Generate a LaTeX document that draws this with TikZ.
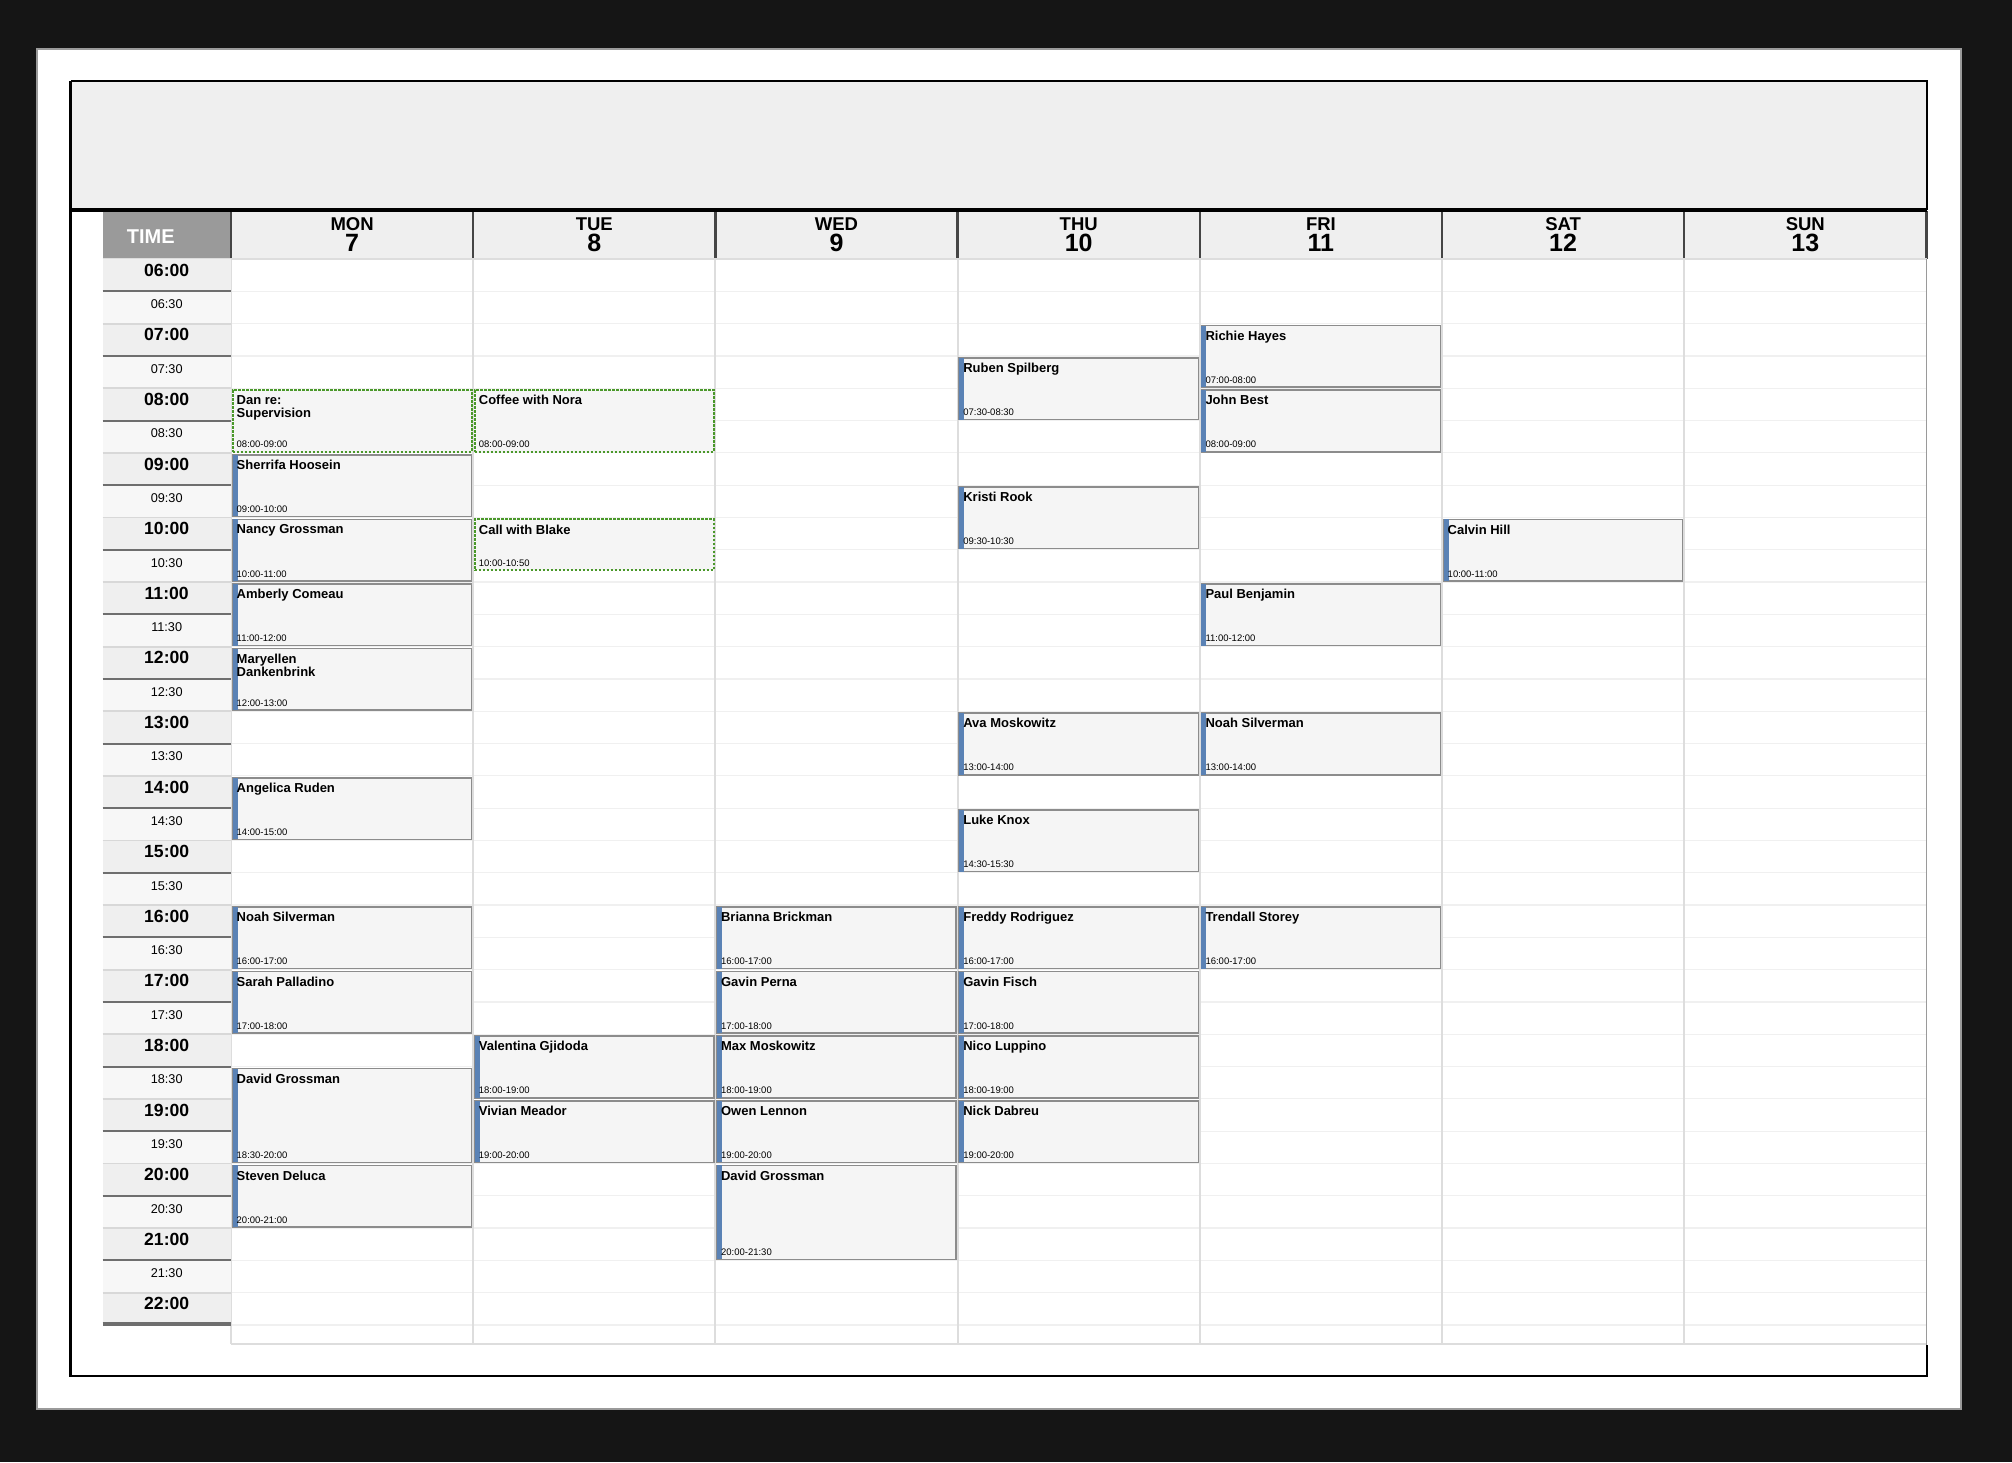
\documentclass[tikz,border=0pt]{standalone}
\usepackage{fontspec}
\setmainfont{Liberation Sans}
\definecolor{bgdark}{HTML}{151515}
\definecolor{paperedge}{HTML}{9A9A9A}
\definecolor{titlefill}{HTML}{EFEFEF}
\definecolor{timehead}{HTML}{9A9A9A}
\definecolor{sepdark}{HTML}{454545}
\definecolor{hourfill}{HTML}{EFEFEF}
\definecolor{halffill}{HTML}{F7F7F7}
\definecolor{hourline}{HTML}{6E6E6E}
\definecolor{halfline}{HTML}{D8D8D8}
\definecolor{gridline}{HTML}{F0F0F0}
\definecolor{colline}{HTML}{DDDDDD}
\definecolor{evfill}{HTML}{F5F5F5}
\definecolor{evborder}{HTML}{8C8C8C}
\definecolor{barblue}{HTML}{5A82B5}
\definecolor{dashgreen}{HTML}{4A982A}
\tikzset{
  evbox/.style={anchor=north west, minimum width=239.2pt, fill=evfill, draw=evborder, line width=1.5pt, inner sep=0pt, outer sep=0pt},
  gevbox/.style={anchor=north west, minimum width=239.2pt, fill=evfill, draw=dashgreen, line width=2pt, dash pattern=on 2.6pt off 1.4pt, inner sep=0pt, outer sep=0pt},
  evtitle/.style={anchor=north west, inner sep=0pt, align=left, font=\bfseries\fontsize{13}{12.7}\selectfont},
  evtime/.style={anchor=base west, inner sep=0pt, font=\fontsize{9.5}{11}\selectfont},
  hourlab/.style={anchor=base, inner sep=0pt, font=\bfseries\fontsize{17.6}{20}\selectfont},
  halflab/.style={anchor=base, inner sep=0pt, font=\fontsize{12.7}{15}\selectfont},
  dayname/.style={anchor=base, inner sep=0pt, font=\bfseries\fontsize{18.5}{20}\selectfont},
  daynum/.style={anchor=base, inner sep=0pt, font=\bfseries\fontsize{25}{27}\selectfont},
}
\newcommand\evt[7][evbox]{%
  \pgfmathsetmacro\evx{231+#3*242.2+1.5}%
  \pgfmathsetmacro\evy{259+(#4-6)*64.6+2}%
  \pgfmathsetmacro\evh{(#5-#4)*64.6-3}%
  \node[#1, minimum height=\evh pt] (#2) at (\evx,\evy) {};
  \fill[barblue] (#2.north west) rectangle ([xshift=5pt]#2.south west);
  \node[evtitle] (#2-n) at ([xshift=4pt,yshift=-5.1pt]#2.north west) {#6};
  \node[evtime] (#2-d) at ([xshift=4pt,yshift=4pt]#2.south west) {#7};
}
\newcommand\gevt[6]{%
  \pgfmathsetmacro\evx{231+#2*242.2+1.5}%
  \pgfmathsetmacro\evy{259+(#3-6)*64.6+2}%
  \pgfmathsetmacro\evh{(#4-#3)*64.6-3}%
  \node[gevbox, minimum height=\evh pt] (#1) at (\evx,\evy) {};
  \node[evtitle] (#1-n) at ([xshift=4pt,yshift=-5.1pt]#1.north west) {#5};
  \node[evtime] (#1-d) at ([xshift=4pt,yshift=4pt]#1.south west) {#6};
}
\begin{document}
\begin{tikzpicture}[x=1pt,y=-1pt]
\useasboundingbox (0,0) rectangle (2012,1462);
% background and paper
\fill[bgdark] (0,0) rectangle (2012,1462);
\filldraw[fill=white, draw=paperedge, line width=2pt] (36.6,49) rectangle (1961,1409);
% title area
\fill[titlefill] (70.5,81) rectangle (1926.5,210);
% header row
\fill[titlefill] (231,211) rectangle (1926.5,259);
\fill[timehead] (102.5,211) rectangle (231,259);
\node[anchor=base west, inner sep=0pt, text=white, font=\bfseries\fontsize{20}{22}\selectfont] (timehdr) at (126.7,243.3) {TIME};
\foreach \dn/\dd [count=\k from 0] in {MON/7,TUE/8,WED/9,THU/10,FRI/11,SAT/12,SUN/13}{
  \pgfmathsetmacro\cx{231+\k*242.2+121.1}
  \node[dayname] (hd\k) at (\cx,230) {\dn};
  \node[daynum] (hn\k) at (\cx,251) {\dd};
}
\foreach \k in {0,...,7}{
  \pgfmathsetmacro\sx{231+\k*242.2}
  \draw[sepdark, line width=2.5pt] (\sx,211) -- (\sx,259);
}
\draw[colline, line width=1.5pt] (102.5,259) -- (1926.5,259);
% thick line under title
\draw[black, line width=4pt] (70.5,210) -- (1926.5,210);
% day grid
\fill[white] (231,260) rectangle (1926.5,1344);
\foreach \i in {1,...,33}{
  \pgfmathsetmacro\gy{259+\i*32.3}
  \draw[gridline, line width=1.2pt] (231,\gy) -- (1926.5,\gy);
}
\foreach \k in {0,...,6}{
  \pgfmathsetmacro\sx{231+\k*242.2}
  \draw[colline, line width=2pt] (\sx,260) -- (\sx,1344);
}
\draw[colline, line width=1.5pt] (231,1344) -- (1926.5,1344);
\draw[paperedge, line width=1.5pt] (1926.5,259) -- (1926.5,1345);
% time column
\foreach \lab [count=\i from 0] in {06:00,06:30,07:00,07:30,08:00,08:30,09:00,09:30,10:00,10:30,11:00,11:30,12:00,12:30,13:00,13:30,14:00,14:30,15:00,15:30,16:00,16:30,17:00,17:30,18:00,18:30,19:00,19:30,20:00,20:30,21:00,21:30,22:00}{
  \pgfmathsetmacro\ty{259+\i*32.3}
  \pgfmathtruncatemacro\odd{mod(\i,2)}
  \ifnum\odd=0
    \fill[hourfill] (102.5,\ty) rectangle (231,\ty+32.3);
    \node[hourlab] (tl\i) at (166.7,\ty+17.2) {\lab};
    \ifnum\i>0 \draw[halfline, line width=1.8pt] (102.5,\ty) -- (231,\ty); \fi
  \else
    \fill[halffill] (102.5,\ty) rectangle (231,\ty+32.3);
    \node[halflab] (tl\i) at (166.7,\ty+17.4) {\lab};
    \draw[hourline, line width=2pt] (102.5,\ty) -- (231,\ty);
  \fi
}
\draw[hourline, line width=4pt] (102.5,1324.3) -- (231,1324.3);
% inner frame
\draw[black, line width=1.5pt] (1926.8,210) -- (1926.8,81) -- (70.5,81);
\draw[black, line width=2.6pt] (70.5,81) -- (70.5,1376) -- (1926.8,1376) -- (1926.8,1345);
% events: Monday
\gevt{m1}{0}{8}{9}{Dan re:\\Supervision}{08:00-09:00}
\evt{m2}{0}{9}{10}{Sherrifa Hoosein}{09:00-10:00}
\evt{m3}{0}{10}{11}{Nancy Grossman}{10:00-11:00}
\evt{m4}{0}{11}{12}{Amberly Comeau}{11:00-12:00}
\evt{m5}{0}{12}{13}{Maryellen\\Dankenbrink}{12:00-13:00}
\evt{m6}{0}{14}{15}{Angelica Ruden}{14:00-15:00}
\evt{m7}{0}{16}{17}{Noah Silverman}{16:00-17:00}
\evt{m8}{0}{17}{18}{Sarah Palladino}{17:00-18:00}
\evt{m9}{0}{18.5}{20}{David Grossman}{18:30-20:00}
\evt{m10}{0}{20}{21}{Steven Deluca}{20:00-21:00}
% Tuesday
\gevt{t1}{1}{8}{9}{Coffee with Nora}{08:00-09:00}
\gevt{t2}{1}{10}{10.8333}{Call with Blake}{10:00-10:50}
\evt{t3}{1}{18}{19}{Valentina Gjidoda}{18:00-19:00}
\evt{t4}{1}{19}{20}{Vivian Meador}{19:00-20:00}
% Wednesday
\evt{w1}{2}{16}{17}{Brianna Brickman}{16:00-17:00}
\evt{w2}{2}{17}{18}{Gavin Perna}{17:00-18:00}
\evt{w3}{2}{18}{19}{Max Moskowitz}{18:00-19:00}
\evt{w4}{2}{19}{20}{Owen Lennon}{19:00-20:00}
\evt{w5}{2}{20}{21.5}{David Grossman}{20:00-21:30}
% Thursday
\evt{h1}{3}{7.5}{8.5}{Ruben Spilberg}{07:30-08:30}
\evt{h2}{3}{9.5}{10.5}{Kristi Rook}{09:30-10:30}
\evt{h3}{3}{13}{14}{Ava Moskowitz}{13:00-14:00}
\evt{h4}{3}{14.5}{15.5}{Luke Knox}{14:30-15:30}
\evt{h5}{3}{16}{17}{Freddy Rodriguez}{16:00-17:00}
\evt{h6}{3}{17}{18}{Gavin Fisch}{17:00-18:00}
\evt{h7}{3}{18}{19}{Nico Luppino}{18:00-19:00}
\evt{h8}{3}{19}{20}{Nick Dabreu}{19:00-20:00}
% Friday
\evt{f1}{4}{7}{8}{Richie Hayes}{07:00-08:00}
\evt{f2}{4}{8}{9}{John Best}{08:00-09:00}
\evt{f3}{4}{11}{12}{Paul Benjamin}{11:00-12:00}
\evt{f4}{4}{13}{14}{Noah Silverman}{13:00-14:00}
\evt{f5}{4}{16}{17}{Trendall Storey}{16:00-17:00}
% Saturday
\evt{s1}{5}{10}{11}{Calvin Hill}{10:00-11:00}
\end{tikzpicture}
\end{document}
